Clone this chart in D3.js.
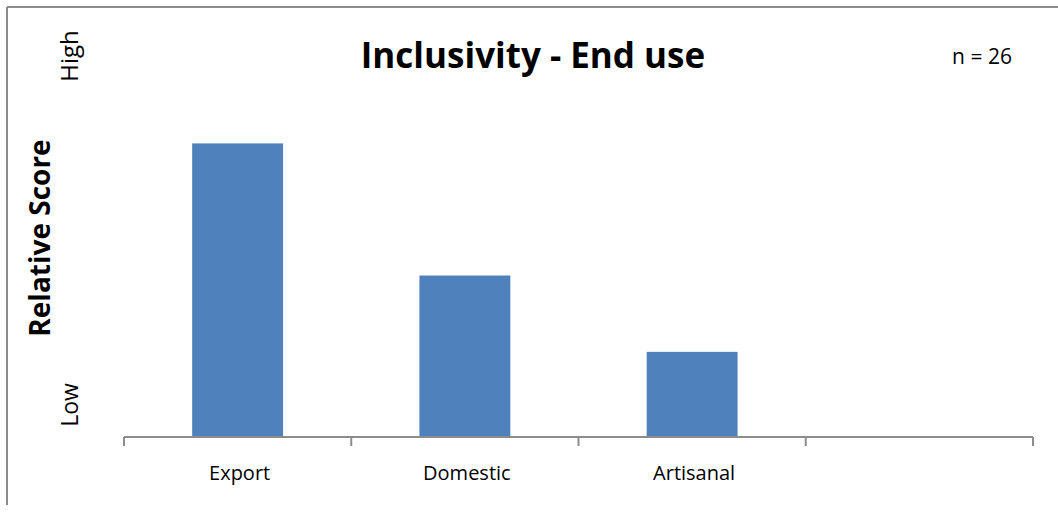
<!DOCTYPE html>
<html>
<head>
<meta charset="utf-8">
<script src="https://cdn.jsdelivr.net/npm/d3@7"></script>
<style>
  body { margin: 0; background: #fff; }
  text { font-family: "Open Sans", "Noto Sans", sans-serif; fill: #000; }
</style>
</head>
<body>
<div id="chart"></div>
<script>
// data (relative score, no numeric axis shown)
var categories = ["Export", "Domestic", "Artisanal", ""];
var scores = [4.0, 2.2, 1.16];
var sampleSize = 26;

var W = 1058, H = 514;
var margin = {top: 70, right: 25, bottom: 77, left: 124};

const svg = d3.select("#chart").append("svg")
  .attr("width", W)
  .attr("height", H);

// outer frame (only top and left edges show in the picture)
svg.append("line").attr("x1", 7).attr("y1", 7).attr("x2", W).attr("y2", 7)
  .attr("stroke", "#8c8c8c").attr("stroke-width", 2);
svg.append("line").attr("x1", 7).attr("y1", 7).attr("x2", 7).attr("y2", 505)
  .attr("stroke", "#8c8c8c").attr("stroke-width", 2);

var x = d3.scaleBand()
  .domain(categories.map((c, i) => i))
  .range([margin.left, W - margin.right])
  .paddingInner(0.6)
  .paddingOuter(0.3);

var y = d3.scaleLinear()
  .domain([0, 5])
  .range([H - margin.bottom, margin.top]);

var baseY = y(0);

// bars
svg.selectAll("rect.bar")
  .data(scores)
  .enter()
  .append("rect")
    .attr("class", "bar")
    .attr("x", (d, i) => x(i))
    .attr("y", d => y(d))
    .attr("width", x.bandwidth())
    .attr("height", d => baseY - y(d))
    .attr("fill", "#4f81bd");

// x axis: band boundaries as ticks, labels centred in bands
var step = x.step();
var edges = d3.range(categories.length + 1).map(i => margin.left + i * step);
svg.append("line")
  .attr("x1", margin.left).attr("x2", W - margin.right)
  .attr("y1", baseY).attr("y2", baseY)
  .attr("stroke", "#8c8c8c").attr("stroke-width", 2);
svg.selectAll("line.tick")
  .data(edges)
  .enter()
  .append("line")
    .attr("class", "tick")
    .attr("x1", d => d).attr("x2", d => d)
    .attr("y1", baseY).attr("y2", baseY + 9)
    .attr("stroke", "#8c8c8c").attr("stroke-width", 2);

svg.selectAll("text.cat")
  .data(categories)
  .enter()
  .append("text")
    .attr("class", "cat")
    .attr("x", (d, i) => x(i) + x.bandwidth() / 2 + 2)
    .attr("y", baseY + 43)
    .attr("text-anchor", "middle")
    .style("font-size", "20px")
    .text(d => d);

// title and n
svg.append("text")
  .attr("x", 533).attr("y", 68)
  .attr("text-anchor", "middle")
  .style("font-size", "35px")
  .style("font-weight", "bold")
  .text("Inclusivity - End use");

svg.append("text")
  .attr("x", 982).attr("y", 64)
  .attr("text-anchor", "middle")
  .style("font-size", "21px")
  .text("n = " + sampleSize);

// y axis words
svg.append("text")
  .attr("transform", "translate(50,238) rotate(-90)")
  .attr("text-anchor", "middle")
  .style("font-size", "28px")
  .style("font-weight", "bold")
  .text("Relative Score");

svg.append("text")
  .attr("transform", "translate(78,56) rotate(-90)")
  .attr("text-anchor", "middle")
  .style("font-size", "24px")
  .text("High");

svg.append("text")
  .attr("transform", "translate(78,405) rotate(-90)")
  .attr("text-anchor", "middle")
  .style("font-size", "23px")
  .text("Low");
</script>
</body>
</html>
